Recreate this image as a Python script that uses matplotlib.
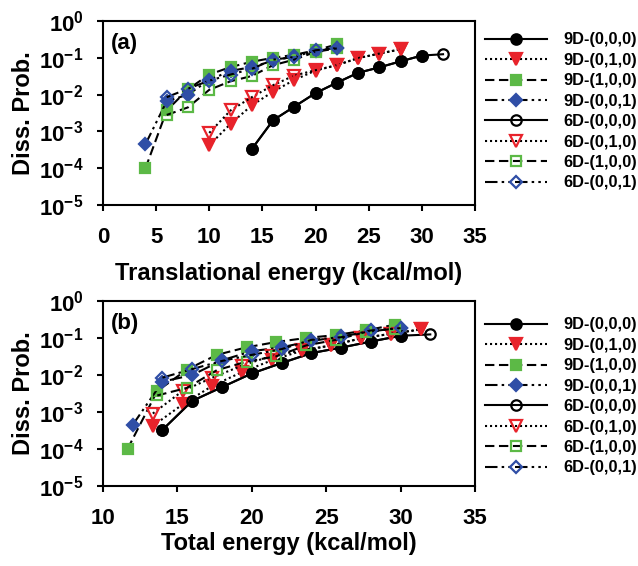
import numpy as np
import matplotlib.pyplot as plt
from matplotlib.ticker import FixedLocator, FuncFormatter, NullLocator

plt.rcParams['font.family'] = 'Liberation Sans'
plt.rcParams['font.weight'] = 'bold'
plt.rcParams['mathtext.fontset'] = 'custom'
plt.rcParams['mathtext.rm'] = 'Liberation Sans:bold'
plt.rcParams['mathtext.bf'] = 'Liberation Sans:bold'

# initial vibrational states and their excitation energy (kcal/mol)
modes = ['(0,0,0)', '(0,1,0)', '(1,0,0)', '(0,0,1)']
vib_energy = [0.0, 3.35, 7.65, 8.0]

# translational energies (kcal/mol) and dissociation probabilities
E9_000 = [14, 16, 18, 20, 22, 24, 26, 28, 30]
P9_000 = [3.3e-4, 2.0e-3, 4.7e-3, 1.1e-2, 2.1e-2, 3.9e-2, 5.5e-2, 8.0e-2, 1.15e-1]
E6_000 = [14, 16, 18, 20, 22, 24, 26, 28, 30, 32]
P6_000 = [3.3e-4, 2.0e-3, 4.7e-3, 1.1e-2, 2.1e-2, 3.9e-2, 5.5e-2, 8.0e-2, 1.15e-1, 1.25e-1]

E9_010 = [10, 12, 14, 16, 18, 20, 22, 24, 26, 28]
P9_010 = [4.2e-4, 1.6e-3, 5.1e-3, 1.2e-2, 2.5e-2, 4.5e-2, 6.3e-2, 9.8e-2, 1.3e-1, 1.7e-1]
E6_010 = [10, 12, 14, 16, 18, 20, 22, 24, 26, 28]
P6_010 = [9.1e-4, 3.7e-3, 8.5e-3, 1.8e-2, 3.3e-2, 4.6e-2, 6.3e-2, 9.8e-2, 1.3e-1, 1.7e-1]

E9_100 = [4, 6, 8, 10, 12, 14, 16, 18, 20, 22]
P9_100 = [1.0e-4, 3.7e-3, 1.4e-2, 3.5e-2, 5.6e-2, 7.8e-2, 1.0e-1, 1.2e-1, 1.6e-1, 2.3e-1]
E6_100 = [6, 8, 10, 12, 14, 16, 18, 20, 22]
P6_100 = [2.8e-3, 4.5e-3, 1.35e-2, 2.3e-2, 3.2e-2, 6.3e-2, 8.9e-2, 1.45e-1, 1.8e-1]

E9_001 = [4, 6, 8, 10, 12, 14, 16, 18, 20, 22]
P9_001 = [4.5e-4, 6.6e-3, 1.0e-2, 2.5e-2, 4.4e-2, 5.6e-2, 8.3e-2, 1.1e-1, 1.5e-1, 1.9e-1]
E6_001 = [6, 8, 10, 12, 14, 16, 18, 20, 22]
P6_001 = [8.5e-3, 1.45e-2, 2.4e-2, 3.5e-2, 5.0e-2, 8.9e-2, 1.05e-1, 1.6e-1, 1.85e-1]

series_9d = [(E9_000, P9_000), (E9_010, P9_010), (E9_100, P9_100), (E9_001, P9_001)]
series_6d = [(E6_000, P6_000), (E6_010, P6_010), (E6_100, P6_100), (E6_001, P6_001)]

colors = ['black', '#e8232b', '#5cb946', '#2f4ea6']
markers = ['o', 'v', 's', 'D']
msizes = [7.5, 8, 7, 6]
linestyles = ['-', (0, (1, 1.4)), (0, (4.5, 2.2)), (0, (6, 2, 1.2, 2, 1.2, 2))]

fig = plt.figure(figsize=(6.38, 5.66), dpi=100)
ax_a = fig.add_axes([0.1614, 0.6378, 0.583, 0.3251])
ax_b = fig.add_axes([0.1614, 0.1413, 0.583, 0.3269])


def draw_panel(ax, shift, legend_top):
    handles = []
    for kind, series, filled in [('9D', series_9d, True), ('6D', series_6d, False)]:
        for i, (E, P) in enumerate(series):
            x = np.array(E, dtype=float) + (vib_energy[i] if shift else 0.0)
            line, = ax.plot(x, P, color='black', lw=1.5, linestyle=linestyles[i],
                            marker=markers[i], ms=msizes[i],
                            mfc=colors[i] if filled else 'none',
                            mec=colors[i], mew=1.6,
                            label=f'{kind}-{modes[i]}')
            handles.append(line)
    ax.set_yscale('log')
    ax.set_ylim(1e-5, 1)
    ax.yaxis.set_major_locator(FixedLocator([1e-5, 1e-4, 1e-3, 1e-2, 1e-1, 1]))
    ax.yaxis.set_minor_locator(NullLocator())
    ax.yaxis.set_major_formatter(
        FuncFormatter(lambda v, _: r'$\mathbf{10^{%d}}$' % round(np.log10(v))))
    for s in ax.spines.values():
        s.set_linewidth(1.5)
    ax.tick_params(direction='out', length=4, width=1.5, labelsize=16)
    ax.tick_params(axis='x', pad=12)
    ax.tick_params(axis='y', pad=10)
    ax.set_ylabel('Diss. Prob.', fontsize=17, fontweight='bold')
    ax.yaxis.set_label_coords(-0.182, 0.5)
    ax.legend(handles=handles, loc='upper left', bbox_to_anchor=(1.027, legend_top),
              frameon=False, fontsize=11.8, handlelength=3.8, handletextpad=1.0,
              labelspacing=0.33, borderpad=0, borderaxespad=0, numpoints=1)


draw_panel(ax_a, False, 0.9375)
ax_a.set_xlim(0, 35)
ax_a.set_xticks(np.arange(0, 36, 5))
ax_a.set_xlabel('Translational energy (kcal/mol)', fontsize=17, fontweight='bold')
ax_a.xaxis.set_label_coords(0.5, -0.31)
ax_a.text(0.022, 0.935, '(a)', transform=ax_a.transAxes, fontsize=16,
          fontweight='bold', va='top', ha='left')

draw_panel(ax_b, True, 0.911)
ax_b.set_xlim(10, 35)
ax_b.set_xticks(np.arange(10, 36, 5))
ax_b.set_xlabel('Total energy (kcal/mol)', fontsize=17, fontweight='bold')
ax_b.xaxis.set_label_coords(0.5, -0.25)
ax_b.text(0.022, 0.935, '(b)', transform=ax_b.transAxes, fontsize=16,
          fontweight='bold', va='top', ha='left')

fig.savefig('out.png', dpi=100)
